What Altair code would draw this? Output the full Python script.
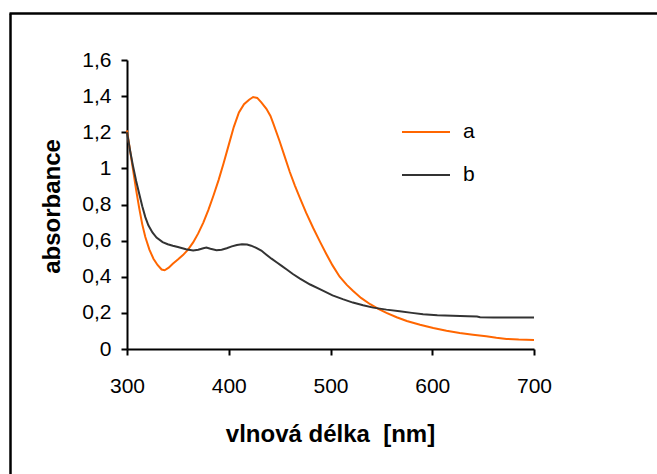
import altair as alt
import pandas as pd

# Absorption spectra: wavelength [nm] and absorbance for samples a and b
wl_a = [300, 303, 306, 309, 312, 315, 318, 322, 326, 330, 334, 337, 341, 345,
        350, 355, 360, 365, 370, 375, 380, 385, 390, 395, 400, 405, 410, 415,
        420, 424, 428, 432, 437, 441, 444, 450, 455, 460, 465, 470, 476, 483,
        490, 496, 502, 509, 516, 522, 530, 539, 547, 555, 565, 575, 588, 601,
        614, 627, 640, 653, 663, 673, 685, 700]
abs_a = [1.21, 1.10, 0.99, 0.88, 0.78, 0.69, 0.62, 0.55, 0.50, 0.465, 0.44, 0.436, 0.45, 0.472,
         0.495, 0.52, 0.55, 0.59, 0.64, 0.70, 0.77, 0.85, 0.935, 1.03, 1.13, 1.23, 1.31, 1.355,
         1.38, 1.395, 1.39, 1.365, 1.33, 1.29, 1.245, 1.15, 1.065, 0.98, 0.905, 0.835, 0.755, 0.67,
         0.59, 0.525, 0.463, 0.40, 0.355, 0.322, 0.283, 0.248, 0.222, 0.20, 0.176, 0.155, 0.134, 0.116,
         0.101, 0.089, 0.079, 0.07, 0.062, 0.056, 0.052, 0.05]

wl_b = [300, 303, 306, 309, 312, 315, 318, 321, 325, 329, 335, 340, 345, 350,
        358, 365, 370, 375, 378, 382, 388, 393, 398, 403, 408, 413, 418, 422,
        427, 432, 437, 442, 447, 452, 457, 463, 470, 480, 490, 502, 512, 522,
        532, 542, 555, 568, 580, 591, 605, 620, 635, 644, 647, 660, 680, 700]
abs_b = [1.20, 1.10, 1.01, 0.93, 0.86, 0.79, 0.73, 0.685, 0.645, 0.617, 0.592, 0.58, 0.572, 0.565,
         0.552, 0.546, 0.55, 0.558, 0.562, 0.555, 0.547, 0.55, 0.558, 0.568, 0.576, 0.58, 0.578, 0.572,
         0.56, 0.545, 0.522, 0.50, 0.48, 0.46, 0.44, 0.415, 0.39, 0.357, 0.33, 0.297, 0.276, 0.257,
         0.242, 0.229, 0.218, 0.209, 0.20, 0.192, 0.187, 0.184, 0.182, 0.18, 0.176, 0.175, 0.175, 0.175]

series_names = ["a", "b"]
series_colors = ["#FF6600", "#333333"]
x_ticks = [300, 400, 500, 600, 700]
y_ticks = [0, 0.2, 0.4, 0.6, 0.8, 1.0, 1.2, 1.4, 1.6]

df = pd.concat([
    pd.DataFrame({"wl": wl_a, "absorbance": abs_a, "vzorek": "a"}),
    pd.DataFrame({"wl": wl_b, "absorbance": abs_b, "vzorek": "b"}),
], ignore_index=True)

FONT = "Liberation Sans"

lines = alt.Chart(df).mark_line(strokeWidth=2, interpolate="linear").encode(
    x=alt.X("wl:Q",
            scale=alt.Scale(domain=[300, 700], nice=False, zero=False),
            axis=alt.Axis(values=x_ticks, title="vlnová délka\u00a0\u00a0[nm]",
                          format="d", labelPadding=20, labelFlush=False,
                          titleX=203, titleY=92,
                          titleBaseline="alphabetic", titleAnchor="middle")),
    y=alt.Y("absorbance:Q",
            scale=alt.Scale(domain=[0, 1.6], nice=False),
            axis=alt.Axis(values=y_ticks, title="absorbance",
                          labelExpr="replace(format(datum.value, '.1~f'), '.', ',')",
                          labelPadding=10, labelFlush=False,
                          titleX=-75, titleY=146,
                          titleBaseline="middle", titleAngle=-90)),
    color=alt.Color("vzorek:N",
                    scale=alt.Scale(domain=series_names, range=series_colors),
                    legend=alt.Legend(title=None, orient="none", legendX=274, legendY=47,
                                      symbolType="stroke", symbolSize=2304,
                                      symbolStrokeWidth=2, labelFontSize=21,
                                      labelFont=FONT, labelOffset=12, padding=0,
                                      rowPadding=8, labelColor="black")),
    order="wl:Q",
)

# Outer frame of the chart object (left and top edges)
frame_src = alt.Data(values=[{"k": 0}])
frame_left = alt.Chart(frame_src).mark_rule(color="black", strokeWidth=2.5).encode(
    x=alt.value(-116.5), y=alt.value(-46.5), y2=alt.value(430))
frame_top = alt.Chart(frame_src).mark_rule(color="black", strokeWidth=2.5).encode(
    x=alt.value(-117.5), x2=alt.value(540), y=alt.value(-46.5))

chart = alt.layer(frame_left, frame_top, lines).properties(
    width=407, height=289,
    autosize=alt.AutoSizeParams(type="none"),
    padding={"left": 127, "top": 60, "right": 123, "bottom": 125},
    background="white",
).configure_view(stroke=None).configure_axis(
    grid=False,
    domainColor="black", domainWidth=2,
    tickColor="black", tickWidth=2, tickSize=6,
    labelFont=FONT, labelFontSize=21, labelColor="black",
    titleFont=FONT, titleFontSize=24, titleFontWeight="bold", titleColor="black",
)

chart.save("out.html", embed_options={"renderer": "svg", "actions": False})
